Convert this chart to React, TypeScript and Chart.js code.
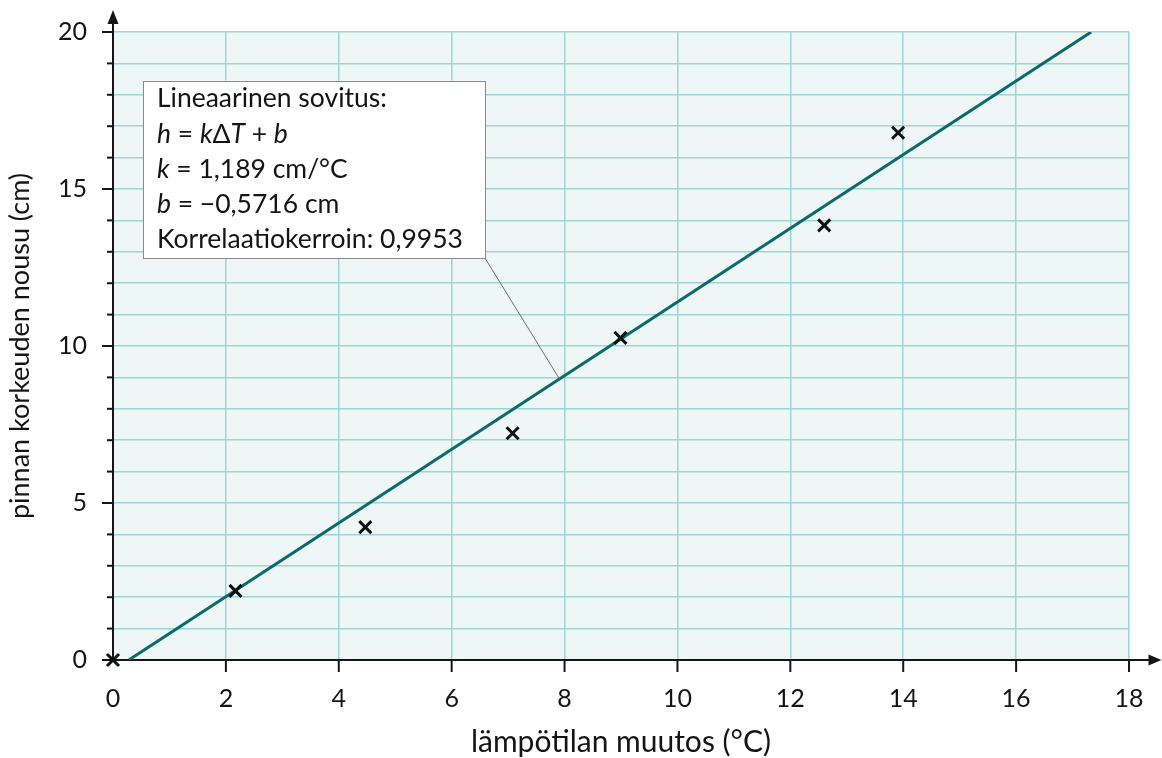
import React, { useEffect, useRef } from 'react';
import { Chart, registerables } from 'chart.js';

Chart.register(...registerables);

// ---- data ----
const tempChange = [0, 2.17, 4.47, 7.08, 8.99, 12.6, 13.91]; // °C
const heightRise = [0, 2.2, 4.23, 7.22, 10.26, 13.84, 16.79]; // cm
const fitLineX = [0.28, 17.33];
const fitLineY = [0, 20];
const xTickStep = 2;
const yTickStep = 1;
const yLabelEvery = 5;
const xTitle = 'lämpötilan muutos (°C)';
const yTitle = 'pinnan korkeuden nousu (cm)';
// annotation text runs: [text, italic]
const annotationLines: [string, boolean][][] = [
  [['Lineaarinen sovitus:', false]],
  [['h', true], [' = ', false], ['k', true], ['Δ', false], ['T', true], [' + ', false], ['b', true]],
  [['k', true], [' = 1,189 cm/°C', false]],
  [['b', true], [' = −0,5716 cm', false]],
  [['Korrelaatiokerroin: 0,9953', false]],
];

const FONT = 'Lato, "Open Sans", sans-serif';
const GRID = '#9dd4d4';
const AXIS = '#151515';

function seg(ctx: CanvasRenderingContext2D, x1: number, y1: number, x2: number, y2: number) {
  ctx.beginPath();
  ctx.moveTo(x1, y1);
  ctx.lineTo(x2, y2);
  ctx.stroke();
}

const decorPlugin = {
  id: 'decor',
  beforeDraw(chart: any) {
    const { ctx, chartArea: a } = chart;
    ctx.save();
    ctx.fillStyle = '#eff6f6';
    ctx.fillRect(a.left, a.top, a.right - a.left, a.bottom - a.top);
    ctx.restore();
  },
  beforeDatasetsDraw(chart: any) {
    const { ctx, chartArea: a, scales } = chart;
    const xs = scales.x;
    const ys = scales.y;
    ctx.save();
    ctx.strokeStyle = AXIS;
    ctx.fillStyle = AXIS;
    ctx.lineWidth = 2;
    for (const t of ys.ticks) {
      const py = ys.getPixelForValue(t.value);
      const len = t.value % yLabelEvery === 0 ? 11 : 6;
      seg(ctx, a.left - len, py, a.left, py);
    }
    for (const t of xs.ticks) {
      if (t.value === 0) continue;
      const px = xs.getPixelForValue(t.value);
      seg(ctx, px, a.bottom, px, a.bottom + 12);
    }
    // y axis with arrow
    const tipY = a.top - 22;
    seg(ctx, a.left, a.bottom + 1, a.left, tipY + 10);
    ctx.beginPath();
    ctx.moveTo(a.left, tipY);
    ctx.lineTo(a.left - 5.5, tipY + 14);
    ctx.lineTo(a.left + 5.5, tipY + 14);
    ctx.closePath();
    ctx.fill();
    // x axis with arrow
    const tipX = chart.width - 0.5;
    seg(ctx, a.left - 1, a.bottom, tipX - 10, a.bottom);
    ctx.beginPath();
    ctx.moveTo(tipX, a.bottom);
    ctx.lineTo(tipX - 13, a.bottom - 5.5);
    ctx.lineTo(tipX - 13, a.bottom + 5.5);
    ctx.closePath();
    ctx.fill();
    ctx.restore();
  },
  afterDatasetsDraw(chart: any) {
    const { ctx, scales } = chart;
    const xs = scales.x;
    const ys = scales.y;
    const bl = xs.getPixelForValue(0.53);
    const br = xs.getPixelForValue(6.59);
    const bt = ys.getPixelForValue(18.45);
    const bb = ys.getPixelForValue(12.8);
    // leader to a point on the fit line
    const lx = 7.91;
    const ly = fitLineY[0] + (fitLineY[1] - fitLineY[0]) * (lx - fitLineX[0]) / (fitLineX[1] - fitLineX[0]);
    ctx.save();
    ctx.strokeStyle = '#6e6e6e';
    ctx.lineWidth = 1;
    seg(ctx, br, bb, xs.getPixelForValue(lx), ys.getPixelForValue(ly));
    ctx.fillStyle = '#ffffff';
    ctx.fillRect(bl, bt, br - bl, bb - bt);
    ctx.strokeStyle = '#8a8a8a';
    ctx.strokeRect(Math.round(bl) + 0.5, Math.round(bt) + 0.5, Math.round(br - bl), Math.round(bb - bt));
    ctx.fillStyle = '#141414';
    ctx.textBaseline = 'middle';
    ctx.textAlign = 'left';
    const size = 26.5;
    const lineGap = 35.3;
    annotationLines.forEach((runs, i) => {
      let px = bl + 14;
      const py = bt + 18 + i * lineGap;
      for (const [txt, it] of runs) {
        ctx.font = `${it ? 'italic ' : ''}${size}px ${FONT}`;
        ctx.fillText(txt, px, py);
        px += ctx.measureText(txt).width;
      }
    });
    ctx.restore();
  },
};

export default function App() {
  const ref = useRef<HTMLCanvasElement | null>(null);
  useEffect(() => {
    if (!ref.current) return;
    const chart = new Chart(ref.current, {
      type: 'scatter',
      data: {
        datasets: [
          {
            type: 'line',
            label: 'fit',
            data: fitLineX.map((x, i) => ({ x, y: fitLineY[i] })),
            borderColor: '#0b6a6c',
            borderWidth: 3,
            pointRadius: 0,
            fill: false,
            order: 2,
          } as any,
          {
            label: 'mittaus',
            data: tempChange.map((x, i) => ({ x, y: heightRise[i] })),
            pointStyle: 'crossRot',
            pointRadius: 8.5,
            borderColor: '#111111',
            backgroundColor: '#111111',
            pointBorderWidth: 3,
            clip: false,
            order: 1,
          } as any,
        ],
      },
      options: {
        animation: false,
        responsive: false,
        maintainAspectRatio: false,
        layout: { padding: { top: 32, right: 33, left: 0, bottom: 0 } },
        plugins: { legend: { display: false }, tooltip: { enabled: false } },
        scales: {
          x: {
            type: 'linear',
            min: 0,
            max: 18,
            border: { display: false },
            grid: { color: GRID, lineWidth: 1.5, drawTicks: true, tickLength: 24, tickColor: 'rgba(0,0,0,0)' },
            ticks: {
              stepSize: xTickStep,
              autoSkip: false,
              maxRotation: 0,
              padding: 0,
              color: '#141414',
              font: { family: FONT, size: 25 },
            },
            title: {
              display: true,
              text: xTitle,
              color: '#141414',
              font: { family: FONT, size: 30, lineHeight: 1 },
              padding: { top: 0, bottom: 1 },
            },
            afterFit: (s: any) => { s.height = 98; },
          },
          y: {
            type: 'linear',
            min: 0,
            max: 20,
            border: { display: false },
            grid: { color: GRID, lineWidth: 1.5, drawTicks: true, tickLength: 26, tickColor: 'rgba(0,0,0,0)' },
            ticks: {
              stepSize: yTickStep,
              autoSkip: false,
              padding: 0,
              color: '#141414',
              font: { family: FONT, size: 25 },
              callback: (v: any) => (Number(v) % yLabelEvery === 0 ? String(v) : ''),
            },
            title: {
              display: true,
              text: yTitle,
              color: '#141414',
              font: { family: FONT, size: 27, lineHeight: 1 },
              padding: { top: 7, bottom: 0 },
            },
            afterFit: (s: any) => { s.width = 113; },
          },
        },
      },
      plugins: [decorPlugin],
    });
    return () => chart.destroy();
  }, []);
  return (
    <div style={{ position: 'absolute', left: 0, top: 0, width: 1162, height: 758, background: '#fff' }}>
      <canvas ref={ref} width={1162} height={758} style={{ width: 1162, height: 758, display: 'block' }} />
    </div>
  );
}
